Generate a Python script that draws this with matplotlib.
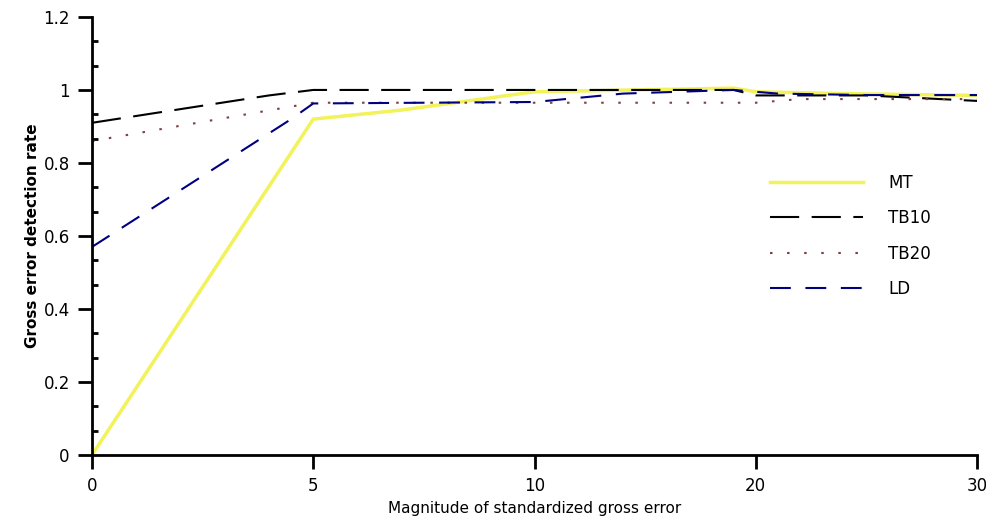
import matplotlib
matplotlib.use("Agg")
import matplotlib.pyplot as plt
from matplotlib.ticker import AutoMinorLocator

# category labels on x axis (evenly spaced positions 0..4)
x_labels = ["0", "5", "10", "20", "30"]

# series; x given as category position
mt_x = [0, 1, 1.4, 2, 2.9, 3, 3.4, 4]
mt_y = [0.0, 0.92, 0.945, 0.995, 1.005, 0.995, 0.99, 0.985]

tb10_x = [0, 0.8, 1, 2, 2.9, 3, 3.5, 4]
tb10_y = [0.91, 0.985, 1.0, 1.0, 1.0, 0.985, 0.985, 0.97]

tb20_x = [0, 1, 3, 3.2, 4]
tb20_y = [0.86, 0.965, 0.965, 0.975, 0.975]

ld_x = [0, 0.9, 1, 2, 2.4, 2.9, 3.1, 3.5, 4]
ld_y = [0.57, 0.92, 0.963, 0.967, 0.99, 1.0, 0.99, 0.986, 0.986]

fig = plt.figure(figsize=(9.87, 5.31), dpi=100)
ax = fig.add_axes([0.0932, 0.1431, 0.8967, 0.825])

ax.plot(mt_x, mt_y, color="#f2f25a", lw=2.5, label="MT")
ax.plot(tb10_x, tb10_y, color="black", lw=1.5, dashes=(14, 6), label="TB10")
ax.plot(tb20_x, tb20_y, color="#804040", lw=1.5, dashes=(1.2, 7), label="TB20")
ax.plot(ld_x, ld_y, color="#000080", lw=1.5, dashes=(10, 7), label="LD")

ax.set_xlim(0, 4)
ax.set_ylim(0, 1.2)
ax.set_xticks(range(len(x_labels)))
ax.set_xticklabels(x_labels)
ax.set_yticks([0, 0.2, 0.4, 0.6, 0.8, 1, 1.2])
ax.set_yticklabels(["0", "0.2", "0.4", "0.6", "0.8", "1", "1.2"])
ax.yaxis.set_minor_locator(AutoMinorLocator(3))

for s in ["top", "right"]:
    ax.spines[s].set_visible(False)
for s in ["left", "bottom"]:
    ax.spines[s].set_linewidth(2)

ax.tick_params(axis="both", which="major", direction="out", length=10,
               width=2, labelsize=12, pad=6)
ax.tick_params(axis="y", which="minor", direction="in", length=4, width=2)

ax.set_xlabel("Magnitude of standardized gross error", fontsize=11, labelpad=4)
ax.set_ylabel("Gross error detection rate", fontsize=11, fontweight="bold",
              labelpad=2)

ax.legend(loc="center left", bbox_to_anchor=(0.766, 0.5), frameon=False,
          fontsize=12, handlelength=5.6, handletextpad=1.5, labelspacing=1.05,
          borderpad=0, borderaxespad=0)

fig.savefig("out.png", dpi=100)
